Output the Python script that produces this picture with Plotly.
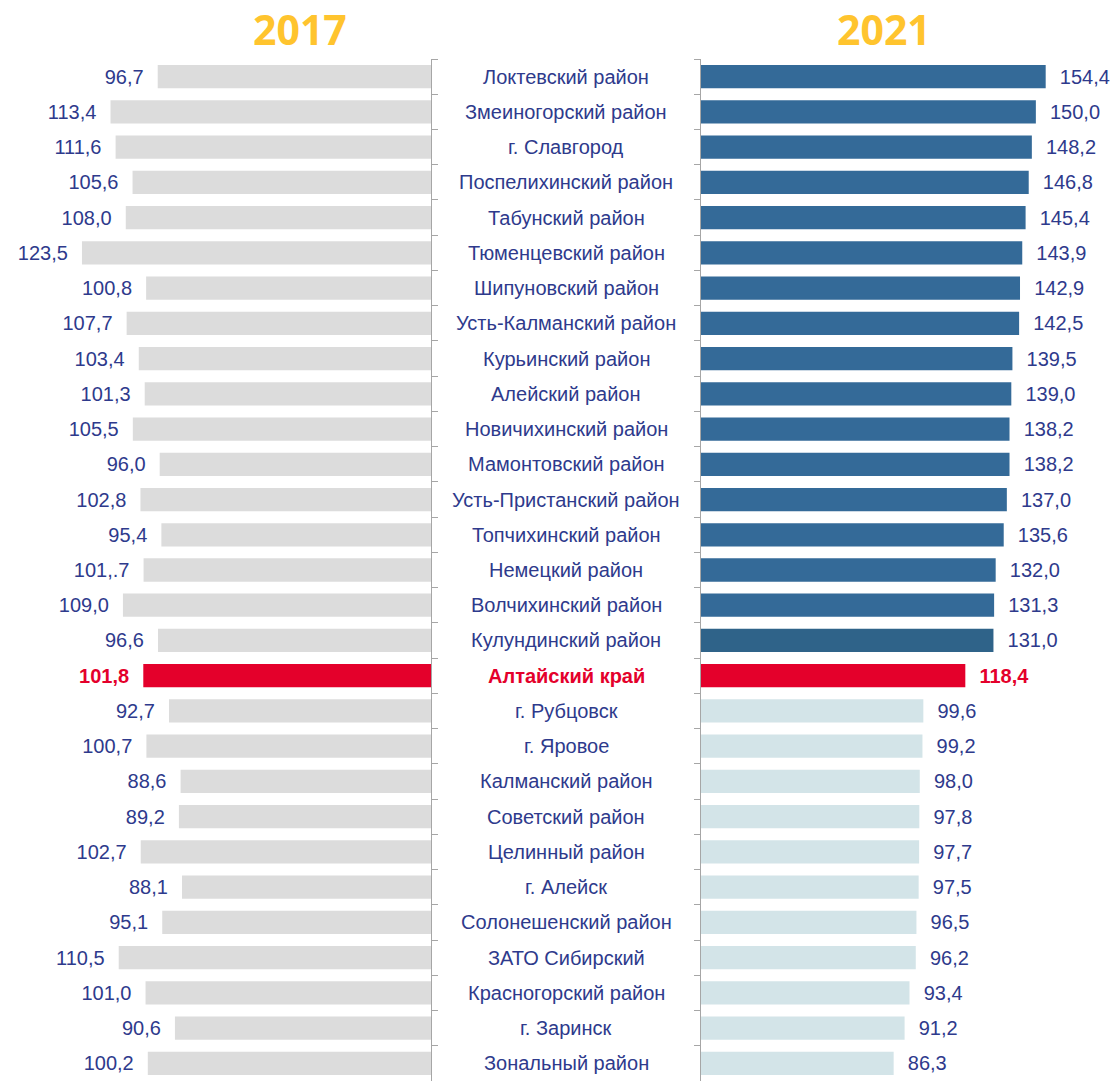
import plotly.graph_objects as go

districts = [
    "Локтевский район", "Змеиногорский район", "г. Славгород", "Поспелихинский район",
    "Табунский район", "Тюменцевский район", "Шипуновский район", "Усть-Калманский район",
    "Курьинский район", "Алейский район", "Новичихинский район", "Мамонтовский район",
    "Усть-Пристанский район", "Топчихинский район", "Немецкий район", "Волчихинский район",
    "Кулундинский район", "Алтайский край", "г. Рубцовск", "г. Яровое",
    "Калманский район", "Советский район", "Целинный район", "г. Алейск",
    "Солонешенский район", "ЗАТО Сибирский", "Красногорский район", "г. Заринск",
    "Зональный район",
]
values_2017 = [96.7, 113.4, 111.6, 105.6, 108.0, 123.5, 100.8, 107.7, 103.4, 101.3,
               105.5, 96.0, 102.8, 95.4, 101.7, 109.0, 96.6, 101.8, 92.7, 100.7,
               88.6, 89.2, 102.7, 88.1, 95.1, 110.5, 101.0, 90.6, 100.2]
values_2021 = [154.4, 150.0, 148.2, 146.8, 145.4, 143.9, 142.9, 142.5, 139.5, 139.0,
               138.2, 138.2, 137.0, 135.6, 132.0, 131.3, 131.0, 118.4, 99.6, 99.2,
               98.0, 97.8, 97.7, 97.5, 96.5, 96.2, 93.4, 91.2, 86.3]
# labels as printed in the source (including its "101,.7" typo)
labels_2017 = ["96,7", "113,4", "111,6", "105,6", "108,0", "123,5", "100,8", "107,7", "103,4",
               "101,3", "105,5", "96,0", "102,8", "95,4", "101,.7", "109,0", "96,6", "101,8",
               "92,7", "100,7", "88,6", "89,2", "102,7", "88,1", "95,1", "110,5", "101,0",
               "90,6", "100,2"]
labels_2021 = [f"{v:.1f}".replace(".", ",") for v in values_2021]
years = ["2017", "2021"]

TOTAL = "Алтайский край"
NAVY = "#2E3A8C"
RED = "#E4002B"
GOLD = "#FFC42E"
FONT = "Liberation Sans, Arial, sans-serif"
FS = 20
PAD = "\u00a0\u00a0"

W, H = 1114, 1081
total_idx = districts.index(TOTAL)
col_2017 = [RED if d == TOTAL else "#DCDCDC" for d in districts]
col_2021 = []
for i, d in enumerate(districts):
    if d == TOTAL:
        col_2021.append(RED)
    elif i < total_idx:
        col_2021.append("#2F6389" if d == "Кулундинский район" else "#346A98")
    else:
        col_2021.append("#D3E4E8")
txtcol = [RED if d == TOTAL else NAVY for d in districts]


def fmt(t, d):
    return f"<b>{t}</b>" if d == TOTAL else t


fig = go.Figure()
fig.add_trace(go.Bar(
    x=values_2017, y=districts, orientation="h", xaxis="x", yaxis="y",
    marker=dict(color=col_2017, line=dict(width=0)),
    text=[fmt(t, d) + PAD for t, d in zip(labels_2017, districts)],
    textposition="outside", cliponaxis=False, textangle=0,
    textfont=dict(family=FONT, size=FS, color=txtcol),
    width=0.66, showlegend=False, hoverinfo="skip",
))
fig.add_trace(go.Bar(
    x=values_2021, y=districts, orientation="h", xaxis="x2", yaxis="y2",
    marker=dict(color=col_2021, line=dict(width=0)),
    text=[PAD + fmt(t, d) for t, d in zip(labels_2021, districts)],
    textposition="outside", cliponaxis=False, textangle=0,
    textfont=dict(family=FONT, size=FS, color=txtcol),
    width=0.66, showlegend=False, hoverinfo="skip",
))

for d in districts:
    fig.add_annotation(
        x=566 / W, xref="paper", y=d, yref="y",
        text=fmt(d, d),
        showarrow=False, xanchor="center", yanchor="middle",
        font=dict(family=FONT, size=FS, color=RED if d == TOTAL else NAVY),
    )

for yr, xc in zip(years, [300, 884]):
    fig.add_annotation(x=xc / W, xref="paper", y=1.0, yref="paper",
                       xanchor="center", yanchor="middle", yshift=30,
                       text=f"<b>{yr}</b>", showarrow=False,
                       font=dict(family="Open Sans, sans-serif", size=41, color=GOLD))

fig.update_layout(
    width=W, height=H,
    margin=dict(l=0, r=0, t=59, b=0),
    paper_bgcolor="white", plot_bgcolor="white",
    xaxis=dict(domain=[0, 431 / W], range=[152.5, 0], showgrid=False, zeroline=False,
               showticklabels=False, ticks=""),
    xaxis2=dict(domain=[701 / W, 1], range=[0, 185], showgrid=False, zeroline=False,
                showticklabels=False, ticks=""),
    yaxis=dict(anchor="x", side="right", autorange="reversed", showline=True,
               linecolor="#A6A6A6", linewidth=1, ticks="outside", tickson="boundaries",
               ticklen=6, tickcolor="#A6A6A6", showticklabels=False, showgrid=False),
    yaxis2=dict(anchor="x2", side="left", autorange="reversed", showline=True,
                linecolor="#A6A6A6", linewidth=1, ticks="outside", tickson="boundaries",
                ticklen=6, tickcolor="#A6A6A6", showticklabels=False, showgrid=False),
)

fig.write_html("out.html", config={"displayModeBar": False},
               post_script="document.body.style.margin='0';")
